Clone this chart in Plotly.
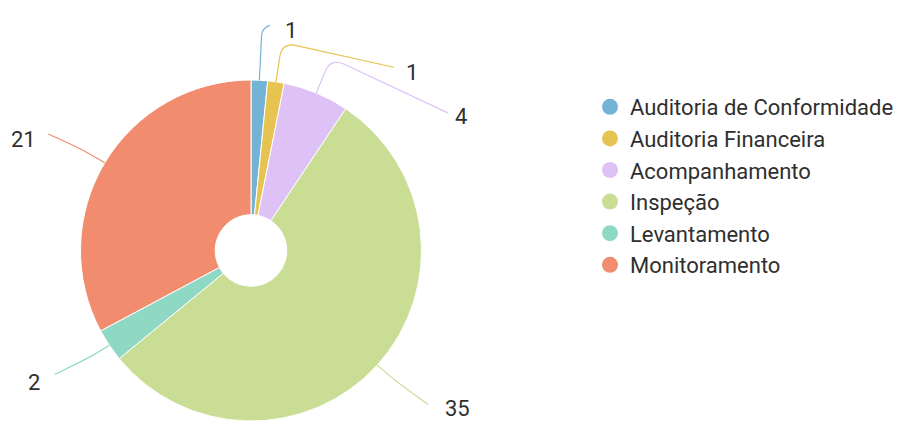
import math
import plotly.graph_objects as go

# Processes by type of audit
categories = [
    "Auditoria de Conformidade",
    "Auditoria Financeira",
    "Acompanhamento",
    "Inspeção",
    "Levantamento",
    "Monitoramento",
]
counts = [1, 1, 4, 35, 2, 21]
colors = ["#72b3d6", "#e7c451", "#dec2f6", "#cadd95", "#8fd8c4", "#f18c6f"]

# Canvas and donut geometry (pixels)
W, H = 909, 421
CX, R = 251.0, 170.5
CY = H - R
HOLE = 0.21

# Leader line layout per slice (pixels):
# radial stub length, elbow -> line end offset, line end -> label centre offset
stub = [52, 40, 38, 20, 15, 25]
end_off = [(8, -3), (112, 25), (117, 55), (36, 26), (-42, 21), (-35, -16)]
label_off = [(21, 5), (18, 5), (13, 4), (29, 4), (-21, 8), (-25, 6)]

FONT = "Roboto, 'Open Sans', sans-serif"
TEXT_COLOR = "#2f2f2f"


def to_paper(px, py):
    return px / W, 1 - py / H


fig = go.Figure()

fig.add_trace(
    go.Pie(
        labels=categories,
        values=counts,
        sort=False,
        direction="clockwise",
        rotation=0,
        hole=HOLE,
        marker=dict(colors=colors, line=dict(color="white", width=1)),
        textinfo="none",
        showlegend=False,
        domain=dict(x=[(CX - R) / W, (CX + R) / W], y=[0, 2 * R / H]),
    )
)

# Legend entries with round markers
for name, col in zip(categories, colors):
    fig.add_trace(
        go.Scatter(
            x=[None], y=[None], mode="markers", name=name,
            marker=dict(size=16, color=col, symbol="circle"),
            hoverinfo="skip",
        )
    )

# Curved leader lines and value labels, placed from each slice's mid-angle
total = sum(counts)
shapes, annotations = [], []
cum = 0.0
for i, v in enumerate(counts):
    mid = (cum + v / 2) / total * 2 * math.pi
    cum += v
    dx, dy = math.sin(mid), -math.cos(mid)
    ax, ay = CX + R * dx, CY + R * dy
    ex, ey = ax + stub[i] * dx, ay + stub[i] * dy
    tx, ty = ex + end_off[i][0], ey + end_off[i][1]
    l1 = math.hypot(ax - ex, ay - ey)
    l2 = math.hypot(tx - ex, ty - ey)
    s = min(15, 0.9 * l1, 0.9 * l2)
    p1 = (ex + (ax - ex) / l1 * s, ey + (ay - ey) / l1 * s)
    p2 = (ex + (tx - ex) / l2 * s, ey + (ty - ey) / l2 * s)
    pts = [to_paper(*p) for p in [(ax, ay), p1, (ex, ey), p2, (tx, ty)]]
    path = "M {0[0]:.5f},{0[1]:.5f} L {1[0]:.5f},{1[1]:.5f} Q {2[0]:.5f},{2[1]:.5f} {3[0]:.5f},{3[1]:.5f} L {4[0]:.5f},{4[1]:.5f}".format(*pts)
    shapes.append(dict(type="path", path=path, xref="paper", yref="paper",
                       line=dict(color=colors[i], width=1.2)))
    lx, ly = to_paper(tx + label_off[i][0], ty + label_off[i][1])
    annotations.append(dict(x=lx, y=ly, xref="paper", yref="paper", text=str(v),
                            showarrow=False, xanchor="center", yanchor="middle",
                            font=dict(family=FONT, size=22, color=TEXT_COLOR)))

fig.update_layout(
    width=W, height=H,
    margin=dict(l=0, r=0, t=0, b=0),
    paper_bgcolor="white", plot_bgcolor="white",
    xaxis=dict(visible=False), yaxis=dict(visible=False),
    shapes=shapes, annotations=annotations,
    legend=dict(
        x=590 / W, y=1 - 86 / H, xanchor="left", yanchor="top",
        font=dict(family=FONT, size=22, color=TEXT_COLOR),
        itemsizing="trace", bgcolor="rgba(0,0,0,0)",
    ),
)

fig.write_html("out.html")
